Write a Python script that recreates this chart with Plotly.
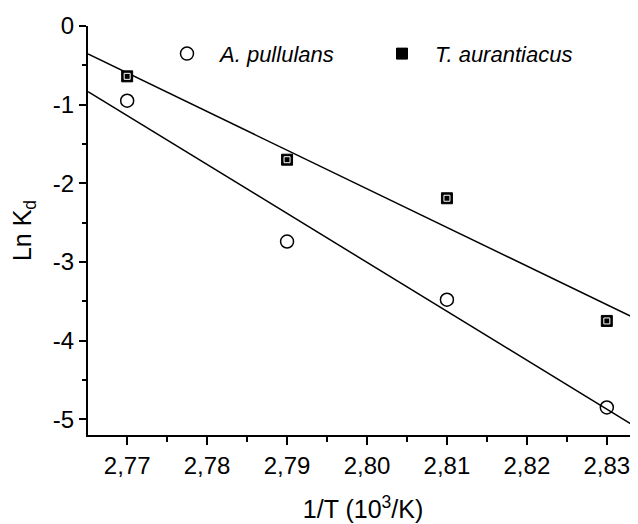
import numpy as np
import plotly.graph_objects as go

# Data
inv_T = [2.77, 2.79, 2.81, 2.83]
ln_kd_pullulans = [-0.95, -2.74, -3.48, -4.85]
ln_kd_aurantiacus = [-0.64, -1.70, -2.19, -3.75]
series_names = ["A. pullulans", "T. aurantiacus"]
x_ticks = [2.77, 2.78, 2.79, 2.80, 2.81, 2.82, 2.83]
y_ticks = [-5, -4, -3, -2, -1, 0]
y_tick_labels = ["-5", "-4", "-3", "-2", "-1", "0"]

x_range = [2.7651, 2.8339]
y_range = [-5.2, 0]

FONT = "Liberation Sans, Arial, sans-serif"

fig = go.Figure()

# linear fits
xf = np.array(x_range)
for ys in (ln_kd_pullulans, ln_kd_aurantiacus):
    k, b = np.polyfit(inv_T, ys, 1)
    fig.add_trace(go.Scatter(x=xf, y=k * xf + b, mode="lines",
                             line=dict(color="black", width=1.5),
                             showlegend=False, hoverinfo="skip"))

fig.add_trace(go.Scatter(x=inv_T, y=ln_kd_pullulans, mode="markers",
                         name=series_names[0],
                         marker=dict(symbol="circle-open", size=13,
                                     color="black", line=dict(width=1.5))))
fig.add_trace(go.Scatter(x=inv_T, y=ln_kd_aurantiacus, mode="markers",
                         name=series_names[1],
                         marker=dict(symbol="square", size=11, color="black",
                                     line=dict(width=1, color="black"))))
fig.add_trace(go.Scatter(x=inv_T, y=ln_kd_aurantiacus, mode="markers",
                         showlegend=False, hoverinfo="skip",
                         marker=dict(symbol="square-open", size=6, color="white",
                                     line=dict(width=1, color="white"))))

# page body has an 8px margin: figure is 630x516 placed at (8, 8)
fig.update_layout(
    width=630, height=516,
    margin=dict(l=80, r=0, t=18, b=89),
    paper_bgcolor="white", plot_bgcolor="white",
    separators=", ",
    font=dict(family=FONT, size=24, color="black"),
    legend=dict(orientation="h", x=0.12, y=0.932, xanchor="left",
                yanchor="middle", bgcolor="rgba(0,0,0,0)",
                font=dict(family=FONT, size=22, style="italic"),
                entrywidth=144, entrywidthmode="pixels", itemwidth=56),
    xaxis=dict(range=x_range, tickvals=x_ticks, tickformat=".2f",
               showline=True, linecolor="black", linewidth=2,
               ticks="outside", ticklen=8, tickwidth=2, tickcolor="black",
               showgrid=False, zeroline=False,
               minor=dict(ticks="outside", ticklen=5, tickwidth=2,
                          tickcolor="black", dtick=0.005, tick0=2.765,
                          showgrid=False),
               tickfont=dict(size=24),
               title=dict(text="1/T (10<sup>3</sup>/K)", font=dict(size=25),
                          standoff=23)),
    yaxis=dict(range=y_range, tickvals=y_ticks, ticktext=y_tick_labels,
               showline=True, linecolor="black", linewidth=2,
               ticks="outside", ticklen=7, tickwidth=2, tickcolor="black",
               showgrid=False, zeroline=False,
               minor=dict(ticks="outside", ticklen=4, tickwidth=2,
                          tickcolor="black", dtick=0.5, tick0=0,
                          showgrid=False),
               tickfont=dict(size=24),
               title=dict(text="Ln K<sub>d</sub>", font=dict(size=25),
                          standoff=19)),
)

fig.write_html("out.html")
